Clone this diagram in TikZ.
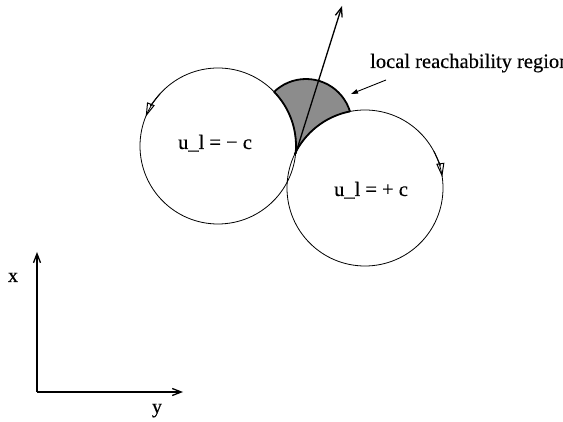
\documentclass[tikz,border=0pt]{standalone}
\usepackage{fontspec}
\setmainfont{Liberation Serif}[FakeBold=0.3]
\newfontfamily\axfont{Liberation Serif}[FakeBold=0.5]
\usetikzlibrary{arrows.meta,calc}
\tikzset{
  circ/.style={line width=0.8pt},
  bound/.style={line width=1.8pt},
  lab/.style={inner sep=0pt, font=\fontsize{20.5}{22}\selectfont},
  axlab/.style={inner sep=0pt, font=\axfont\fontsize{20}{22}\selectfont},
  barb/.style={-{Straight Barb[length=9pt,width=7pt]}, line width=1.3pt},
  circtip/.style={-{Triangle[open,length=14pt,width=8pt]}, line width=1pt},
}
\begin{document}
\begin{tikzpicture}[x=1pt,y=-1pt]
\useasboundingbox (0,0) rectangle (563,422);
\coordinate (C1) at (218,146);
\coordinate (C2) at (365,188);
\coordinate (C3) at (306,125);
\coordinate (apex) at (296,152.5);
\coordinate (top) at (342,6);
% shaded region
\fill[black!45] (C3) circle (46);
\draw[bound] (C3) circle (46);
\fill[white] (C1) circle (78);
\fill[white] (C2) circle (78);
\draw[circ] (C1) circle (78);
\draw[circ] (C2) circle (78);
\begin{scope}
  \clip (C3) circle (46);
  \clip (0,0) rectangle (563,154);
  \draw[bound] (C1) circle (78);
  \draw[bound] (C2) circle (78);
\end{scope}
% direction arrows on circles
\draw[circtip] ($(C1)+(222:78)$) arc (222:202:78);
\draw[circtip] ($(C2)+(-28:78)$) arc (-28:-8:78);
% velocity arrow
\draw[barb] (apex) -- (top);
% labels
\node[lab, anchor=base] (m) at (215,149) {u\_l = − c};
\node[lab, anchor=base] (p) at (371,196) {u\_l = + c};
\node[lab, anchor=base west] (reg) at (370,68) {local reachability region};
\coordinate (regtip) at (351,94);
\draw[-{Triangle[length=7pt,width=4.5pt]}, line width=0.9pt] (386,80) coordinate (regfrom) -- (regtip);
% axes
\coordinate (O) at (37,392);
\coordinate (X) at (37,252);
\coordinate (Y) at (183,392);
\draw[barb] (O) -- (X);
\draw[barb] (O) -- (Y);
\node[axlab, anchor=base] (xl) at (13,282) {x};
\node[axlab, anchor=base] (yl) at (157,413) {y};
\end{tikzpicture}
\end{document}
